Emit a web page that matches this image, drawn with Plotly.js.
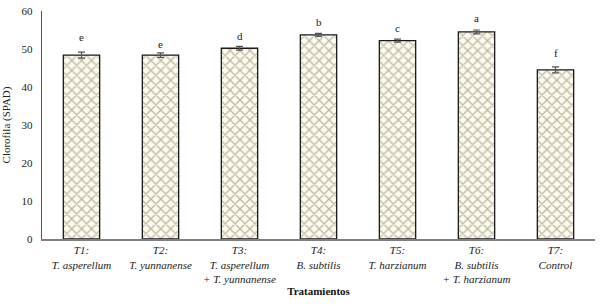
<!DOCTYPE html>
<html><head><meta charset="utf-8">
<script src="https://cdn.plot.ly/plotly-3.0.1.min.js"></script>
<style>body{margin:0;background:#fff}#c{width:604px;height:306px}</style>
</head><body><div id="c"></div>
<script>
const categories = ["T1", "T2", "T3", "T4", "T5", "T6", "T7"];
const tickLabels = [
  "<i>T1:</i><br><i>T. asperellum</i>",
  "<i>T2:</i><br><i>T. yunnanense</i>",
  "<i>T3:</i><br><i>T. asperellum</i><br><i>+ T. yunnanense</i>",
  "<i>T4:</i><br><i>B. subtilis</i>",
  "<i>T5:</i><br><i>T. harzianum</i>",
  "<i>T6:</i><br><i>B. subtilis</i><br><i>+ T. harzianum</i>",
  "<i>T7:</i><br><i>Control</i>"
];
const chlorophyll = [48.4, 48.4, 50.2, 53.7, 52.2, 54.5, 44.5];
const errors = [0.8, 0.6, 0.5, 0.4, 0.4, 0.5, 0.8];
const letters = ["e", "e", "d", "b", "c", "a", "f"];
const letterY = [53.1, 51.3, 53.5, 57.0, 55.4, 58.2, 48.9];

const FONT = "Liberation Serif";

const trace = {
  type: "bar",
  x: categories,
  y: chlorophyll,
  width: 0.46,
  marker: {
    color: "#fdfbf0",
    line: {color: "#1a1a1a", width: 1.3},
    pattern: {shape: "x", fgcolor: "#bdb9a0", bgcolor: "#fdfbf0", size: 7, solidity: 0.35, fillmode: "replace"}
  },
  error_y: {type: "data", array: errors, visible: true, color: "#555", thickness: 1.2, width: 3.5},
  hoverinfo: "none"
};

const annotations = categories.map((c, i) => ({
  x: c, y: letterY[i], text: letters[i], showarrow: false,
  xref: "x", yref: "y",
  font: {family: FONT, size: 11, color: "#222"}
}));

const layout = {
  width: 604, height: 306,
  margin: {l: 42, r: 9, t: 11, b: 67},
  paper_bgcolor: "#fff", plot_bgcolor: "#fff",
  font: {family: FONT, size: 11, color: "#222"},
  showlegend: false,
  xaxis: {
    type: "category",
    tickvals: categories, ticktext: tickLabels,
    showline: true, linecolor: "#7f7f7f", linewidth: 2,
    ticks: "", showgrid: false, zeroline: false,
    tickfont: {family: FONT, size: 11, color: "#222"},
    title: {text: "<b>Tratamientos</b>", font: {family: FONT, size: 11, color: "#111"}, standoff: 4}
  },
  yaxis: {
    range: [0, 60], dtick: 10,
    showline: true, linecolor: "#555", linewidth: 1.3,
    ticks: "", showgrid: false, zeroline: false,
    tickfont: {family: FONT, size: 11, color: "#222"},
    ticklabelstandoff: 6,
    title: {text: "Clorofila (SPAD)", font: {family: FONT, size: 11, color: "#222"}, standoff: 8}
  },
  annotations: annotations
};

Plotly.newPlot("c", [trace], layout, {staticPlot: true});
</script></body></html>
